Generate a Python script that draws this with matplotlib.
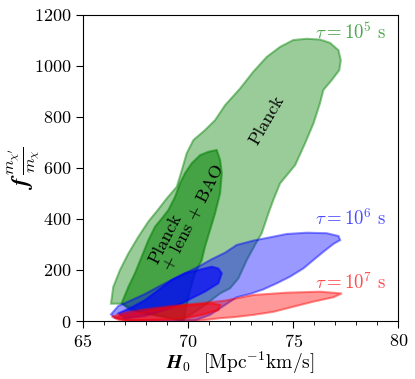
import numpy as np
import matplotlib
matplotlib.use("Agg")
import matplotlib.pyplot as plt
from matplotlib.colors import to_rgba

plt.rcParams['font.family'] = 'serif'
plt.rcParams['font.serif'] = ['cmr10']
plt.rcParams['mathtext.fontset'] = 'cm'
plt.rcParams['axes.formatter.use_mathtext'] = True

# contour outlines (H0, f*m_x'/m_x)
# tau = 1e5 s, Planck
g_planck_h0 = [66.33, 66.44, 66.76, 67.16, 67.63, 68.11, 68.51, 68.98, 69.46, 69.70, 69.93, 70.25,
               70.80, 71.28, 71.76, 72.47, 73.10, 73.74, 74.37, 75.00, 75.64, 76.27, 76.75, 77.15,
               77.26, 77.19, 76.83, 76.43, 76.27, 75.96, 75.56, 75.09, 74.37, 74.05, 73.82, 73.50,
               73.18, 72.79, 72.39, 71.99, 71.52, 70.80, 70.09, 69.61, 67.71, 66.84]
g_planck_f = [68, 134, 200, 265, 330, 390, 430, 480, 526, 591, 657, 709,
              748, 787, 846, 911, 977, 1035, 1074, 1101, 1106, 1103, 1090, 1061,
              1022, 983, 944, 905, 853, 774, 696, 611, 539, 474, 422, 344,
              298, 239, 167, 128, 108, 63, 24, 2, 35, 68]
# tau = 1e5 s, Planck + lens + BAO
g_bao_h0 = [66.84, 67.16, 67.47, 67.79, 68.11, 68.43, 68.76, 69.06, 69.38, 69.61, 69.85, 70.17,
            70.57, 70.96, 71.36, 71.52, 71.60, 71.52, 71.28, 71.04, 70.80, 70.65, 70.33, 70.09,
            69.93, 69.80, 68.66, 67.24]
g_bao_f = [70, 134, 187, 252, 317, 370, 403, 435, 487, 539, 579, 618,
           650, 663, 670, 631, 579, 500, 422, 356, 291, 239, 187, 121,
           63, 2, 20, 43]
# tau = 1e6 s, Planck
b_planck_h0 = [66.33, 66.68, 67.32, 67.95, 68.58, 69.22, 69.85, 70.49, 71.12, 71.76, 72.31, 73.10,
               73.90, 74.69, 75.64, 76.59, 77.15, 77.23, 76.91, 76.43, 75.96, 75.48, 74.85, 74.22,
               73.58, 72.94, 72.31, 71.76, 71.04, 70.33, 67.24, 66.52]
b_planck_f = [26, 59, 82, 106, 134, 161, 187, 213, 242, 268, 298, 315,
              328, 341, 346, 344, 333, 317, 302, 271, 239, 206, 174, 148,
              124, 106, 93, 63, 24, 2, 2, 12]
# tau = 1e6 s, Planck + lens + BAO
b_bao_h0 = [66.68, 67.32, 67.95, 68.58, 69.22, 69.85, 70.49, 71.12, 71.44, 71.60, 71.44, 70.80,
            70.17, 69.70, 68.90, 67.95, 67.00]
b_bao_f = [30, 54, 82, 121, 161, 187, 200, 213, 206, 187, 148, 115,
           89, 69, 43, 20, 10]
# tau = 1e7 s, Planck
r_planck_h0 = [66.37, 67.00, 67.95, 69.22, 70.49, 71.76, 73.10, 74.69, 76.27, 77.31, 76.91, 75.96,
               75.00, 74.05, 73.10, 72.15, 71.52, 70.57, 66.76]
r_planck_f = [17, 33, 46, 59, 69, 80, 102, 111, 115, 108, 93, 76,
              56, 36, 24, 15, 11, 2, 2]
# tau = 1e7 s, Planck + lens + BAO
r_bao_h0 = [66.52, 67.63, 68.90, 70.17, 71.12, 71.52, 71.44, 70.65, 69.85, 68.43, 67.00]
r_bao_f = [15, 33, 50, 63, 69, 63, 43, 24, 11, 4, 2]

fig = plt.figure(figsize=(4.15, 3.79), dpi=100)
ax = fig.add_axes([0.2, 0.153, 0.76, 0.808])


def region(h0, f, color, face_alpha, edge_alpha):
    ax.fill(h0, f, facecolor=to_rgba(color, face_alpha),
            edgecolor=to_rgba(color, edge_alpha), linewidth=1.5)


region(g_planck_h0, g_planck_f, 'green', 0.4, 0.45)
region(g_bao_h0, g_bao_f, 'green', 0.55, 0.55)
region(b_planck_h0, b_planck_f, 'blue', 0.4, 0.45)
region(b_bao_h0, b_bao_f, 'blue', 0.65, 0.55)
region(r_planck_h0, r_planck_f, 'red', 0.4, 0.45)
region(r_bao_h0, r_bao_f, 'red', 0.55, 0.55)

ax.text(73.75, 787, 'Planck', rotation=60, ha='center', va='center', fontsize=13)
ax.text(69.9, 419, 'Planck\n+ lens + BAO', rotation=63, ha='center', va='center',
        fontsize=13, multialignment='left', linespacing=1.0)

ax.text(77.75, 1130, r'$\tau = 10^5$ s', color=to_rgba('green', 0.7), ha='center', va='center', fontsize=13.5)
ax.text(77.75, 400, r'$\tau = 10^6$ s', color=to_rgba('blue', 0.7), ha='center', va='center', fontsize=13.5)
ax.text(77.75, 150, r'$\tau = 10^7$ s', color=to_rgba('red', 0.7), ha='center', va='center', fontsize=13.5)

ax.set_xlim(65, 80)
ax.set_ylim(0, 1200)
ax.set_xticks([65, 70, 75, 80])
ax.set_xticks(np.arange(65, 81, 1), minor=True)
ax.set_yticks([0, 200, 400, 600, 800, 1000, 1200])
ax.tick_params(axis='both', which='major', labelsize=13, length=5, direction='out')
ax.tick_params(axis='x', which='minor', length=3)

ax.set_xlabel(r'$\mathbfit{H}_\mathbf{0}$  [Mpc$^{-1}$km/s]', fontsize=14)
ax.xaxis.set_label_coords(0.5, -0.095)
ax.set_ylabel(r"$\mathbfit{f}\,\frac{m_{\chi'}}{m_\chi}$", fontsize=17)
ax.yaxis.set_label_coords(-0.13, 0.5)

plt.savefig('out.png', dpi=100)
